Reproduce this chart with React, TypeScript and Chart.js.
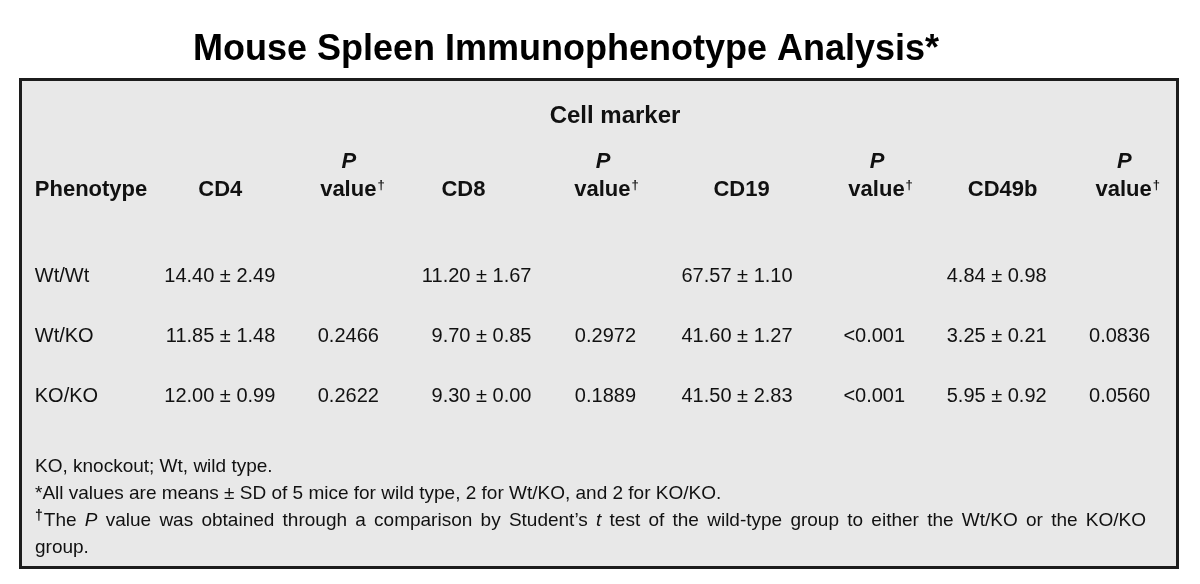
import React, { useEffect, useRef } from "react";
import { Chart, registerables } from "chart.js";

Chart.register(...registerables);

// ---------- DATA ----------
const titleText = "Mouse Spleen Immunophenotype Analysis*";
const spannerText = "Cell marker";
const columnKeys = ["Phenotype", "CD4", "P_CD4", "CD8", "P_CD8", "CD19", "P_CD19", "CD49b", "P_CD49b"];
const columnHeaders = ["Phenotype", "CD4", "P value", "CD8", "P value", "CD19", "P value", "CD49b", "P value"];
const phenotypes = ["Wt/Wt", "Wt/KO", "KO/KO"];

const cd4Mean = [14.4, 11.85, 12.0];
const cd4Sd = [2.49, 1.48, 0.99];
const cd4P = ["", "0.2466", "0.2622"];

const cd8Mean = [11.2, 9.7, 9.3];
const cd8Sd = [1.67, 0.85, 0.0];
const cd8P = ["", "0.2972", "0.1889"];

const cd19Mean = [67.57, 41.6, 41.5];
const cd19Sd = [1.1, 1.27, 2.83];
const cd19P = ["", "<0.001", "<0.001"];

const cd49bMean = [4.84, 3.25, 5.95];
const cd49bSd = [0.98, 0.21, 0.92];
const cd49bP = ["", "0.0836", "0.0560"];

const footnote1 = "KO, knockout; Wt, wild type.";
const footnote2 = "*All values are means \u00B1 SD of 5 mice for wild type, 2 for Wt/KO, and 2 for KO/KO.";
// segments: [text, italic]
const footnote3Line1: [string, boolean][] = [
  ["The ", false],
  ["P", true],
  [" value was obtained through a comparison by Student\u2019s ", false],
  ["t", true],
  [" test of the wild-type group to either the Wt/KO or the KO/KO", false],
];
const footnote3Line2 = "group.";

// ---------- STYLE ----------
const FONT = '"Liberation Sans", Arial, Helvetica, sans-serif';
const TEXT_COLOR = "#111111";
const BOX_FILL = "#e8e8e8";
const BOX_STROKE = "#1c1c1c";
// per-column fine alignment (px) relative to the category centre
const HEADER_SHIFT = [0, 0, 2, -16, -3, 3, 12, 5, 0];
const CELL_ANCHOR = [-56, 55, 29, 52, 27, 54, 37, 49, 23];
const JUSTIFY_RIGHT = 1146;

const fmt = (m: number, s: number) => `${m.toFixed(2)} \u00B1 ${s.toFixed(2)}`;

type Cell = { x: string; y: string; text: string; col: number };

function buildCells(): Cell[] {
  const cells: Cell[] = [];
  const groups: [number[], number[], string[]][] = [
    [cd4Mean, cd4Sd, cd4P],
    [cd8Mean, cd8Sd, cd8P],
    [cd19Mean, cd19Sd, cd19P],
    [cd49bMean, cd49bSd, cd49bP],
  ];
  phenotypes.forEach((ph, i) => {
    cells.push({ x: columnKeys[0], y: ph, text: ph, col: 0 });
    groups.forEach(([m, s, p], g) => {
      const vc = 1 + g * 2;
      cells.push({ x: columnKeys[vc], y: ph, text: fmt(m[i], s[i]), col: vc });
      if (p[i]) cells.push({ x: columnKeys[vc + 1], y: ph, text: p[i], col: vc + 1 });
    });
  });
  return cells;
}

const tablePlugin = {
  id: "tablePlugin",
  beforeDraw(chart: any) {
    const ctx = chart.ctx as CanvasRenderingContext2D;
    ctx.save();
    ctx.fillStyle = "#ffffff";
    ctx.fillRect(0, 0, chart.width, chart.height);
    ctx.fillStyle = BOX_FILL;
    ctx.fillRect(19, 78, 1160, 491);
    ctx.strokeStyle = BOX_STROKE;
    ctx.lineWidth = 3;
    ctx.strokeRect(20.5, 79.5, 1157, 488);

    ctx.fillStyle = "#000000";
    ctx.font = `bold 36px ${FONT}`;
    ctx.textAlign = "center";
    ctx.textBaseline = "alphabetic";
    ctx.fillText(titleText, 566, 60);
    ctx.restore();
  },
  afterDatasetsDraw(chart: any) {
    const ctx = chart.ctx as CanvasRenderingContext2D;
    const xs = chart.scales.x;
    const area = chart.chartArea;
    ctx.save();
    ctx.fillStyle = TEXT_COLOR;

    // spanner
    ctx.font = `bold 24px ${FONT}`;
    ctx.textAlign = "center";
    ctx.textBaseline = "middle";
    ctx.fillText(spannerText, (area.left + area.right) / 2 + 6, area.top - 129);

    // headers
    const headY = area.top - 55;
    const pY = area.top - 83;
    columnHeaders.forEach((h, i) => {
      const cx = xs.getPixelForValue(i) + HEADER_SHIFT[i];
      ctx.textBaseline = "middle";
      if (i === 0) {
        ctx.font = `bold 22px ${FONT}`;
        ctx.textAlign = "left";
        ctx.fillText(h, xs.getPixelForValue(i) + CELL_ANCHOR[0], headY);
      } else if (h.startsWith("P ")) {
        ctx.font = `italic bold 22px ${FONT}`;
        ctx.textAlign = "center";
        ctx.fillText("P", cx - 3, pY);
        ctx.font = `bold 22px ${FONT}`;
        const w1 = ctx.measureText("value").width;
        ctx.font = `bold 13px ${FONT}`;
        const w2 = ctx.measureText("\u2020").width;
        const start = cx - (w1 + w2) / 2;
        ctx.textAlign = "left";
        ctx.font = `bold 22px ${FONT}`;
        ctx.fillText("value", start, headY);
        ctx.font = `bold 13px ${FONT}`;
        ctx.fillText("\u2020", start + w1 + 1, headY - 5);
      } else {
        ctx.font = `bold 22px ${FONT}`;
        ctx.textAlign = "center";
        ctx.fillText(h, cx, headY);
      }
    });

    // cells
    const meta = chart.getDatasetMeta(0);
    const cells: Cell[] = chart.data.datasets[0].data;
    ctx.font = `20px ${FONT}`;
    ctx.textBaseline = "middle";
    meta.data.forEach((pt: any, i: number) => {
      const c = cells[i];
      ctx.textAlign = c.col === 0 ? "left" : "right";
      ctx.fillText(c.text, pt.x + CELL_ANCHOR[c.col], pt.y + 1);
    });

    // footnotes
    const fx = 35;
    const base = area.bottom;
    ctx.textAlign = "left";
    ctx.textBaseline = "middle";
    ctx.font = `19px ${FONT}`;
    ctx.fillText(footnote1, fx, base + 42);
    ctx.fillText(footnote2, fx, base + 69);
    // line 3: dagger + justified text with italic runs
    let x = fx;
    ctx.font = `bold 14px ${FONT}`;
    ctx.fillText("\u2020", x, base + 91);
    x += ctx.measureText("\u2020").width + 1;
    let natural = 0;
    let spaces = 0;
    footnote3Line1.forEach(([t, it]) => {
      ctx.font = `${it ? "italic " : ""}19px ${FONT}`;
      natural += ctx.measureText(t).width;
      spaces += (t.match(/ /g) || []).length;
    });
    const extra = spaces > 0 ? Math.max(0, (JUSTIFY_RIGHT - x - natural) / spaces) : 0;
    footnote3Line1.forEach(([t, it]) => {
      ctx.font = `${it ? "italic " : ""}19px ${FONT}`;
      const parts = t.split(" ");
      parts.forEach((p, k) => {
        if (p) {
          ctx.fillText(p, x, base + 96);
          x += ctx.measureText(p).width;
        }
        if (k < parts.length - 1) x += ctx.measureText(" ").width + extra;
      });
    });
    ctx.font = `19px ${FONT}`;
    ctx.fillText(footnote3Line2, fx, base + 123);
    ctx.restore();
  },
};

export default function App() {
  const ref = useRef<HTMLCanvasElement | null>(null);
  useEffect(() => {
    if (!ref.current) return;
    const cells = buildCells();
    const chart = new Chart(ref.current, {
      type: "scatter",
      data: {
        datasets: [
          {
            data: cells as any,
            pointRadius: 0,
            pointHoverRadius: 0,
            backgroundColor: "transparent",
            borderColor: "transparent",
          },
        ],
      },
      options: {
        animation: false,
        responsive: false,
        devicePixelRatio: 1,
        layout: { padding: { left: 26, right: 8, top: 245, bottom: 159 } },
        plugins: { legend: { display: false }, tooltip: { enabled: false }, title: { display: false } },
        scales: {
          x: { type: "category", labels: columnKeys, offset: true, display: false },
          y: { type: "category", labels: phenotypes, offset: true, display: false },
        },
      },
      plugins: [tablePlugin],
    });
    return () => chart.destroy();
  }, []);
  return (
    <div style={{ position: "absolute", left: 0, top: 0, width: 1200, height: 584 }}>
      <canvas ref={ref} width={1200} height={584} style={{ display: "block" }} />
    </div>
  );
}
